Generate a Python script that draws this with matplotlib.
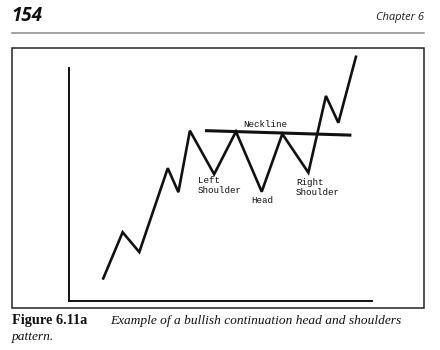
import matplotlib
matplotlib.use("Agg")
import matplotlib.pyplot as plt
from matplotlib.patches import Rectangle
from matplotlib.lines import Line2D

# Price path of a bullish continuation head-and-shoulders (time, price)
time = [11.3, 17.7, 23.2, 32.6, 36.1, 39.9, 47.9, 55.1, 63.6, 70.4, 79.0, 84.8, 88.9, 94.7]
price = [9.7, 29.5, 21.0, 57.0, 46.7, 73.1, 54.4, 72.7, 46.9, 71.7, 55.1, 88.0, 76.5, 104.8]

# Neckline end points
neck_time = [45.4, 92.7]
neck_price = [73.1, 71.2]

# Labelled troughs: index into the price path
left_shoulder_idx = 6
head_idx = 8
right_shoulder_idx = 10

W, H = 440, 350
fig = plt.figure(figsize=(W / 100, H / 100), dpi=100)
fig.patch.set_facecolor("white")


def fx(px):
    return px / W


def fy(py):
    return 1 - py / H


ink = "#111111"

# Page header
fig.text(fx(11), fy(21), "154", fontsize=13.5, fontweight="bold", style="italic",
         family="Open Sans", color=ink, ha="left", va="baseline")
fig.text(fx(424), fy(20), "Chapter 6", fontsize=8.0, style="italic",
         family="Open Sans", color="#222222", ha="right", va="baseline")
fig.add_artist(Line2D([fx(12), fx(424)], [fy(33), fy(33)], transform=fig.transFigure,
                      color="#8a8a8a", lw=1.1))

# Figure frame
fig.add_artist(Rectangle((fx(12), fy(308)), fx(424) - fx(12), fy(48) - fy(308),
                         transform=fig.transFigure, fill=False, edgecolor="#222222", lw=1.1))

# Chart axes
ax = fig.add_axes([fx(69), fy(301), fx(372) - fx(69), fy(68) - fy(301)])
ax.set_xlim(0, 100)
ax.set_ylim(0, 100)
ax.patch.set_alpha(0)
for side in ("top", "right"):
    ax.spines[side].set_visible(False)
for side in ("left", "bottom"):
    ax.spines[side].set_linewidth(1.4)
    ax.spines[side].set_color(ink)
ax.set_xticks([])
ax.set_yticks([])

ax.plot(time, price, color=ink, lw=1.9, solid_joinstyle="miter", clip_on=False)
ax.plot(neck_time, neck_price, color=ink, lw=2.2, clip_on=False)

mono = dict(family="Liberation Mono", fontsize=6.6, color=ink)

ax.annotate("Neckline", xy=(neck_time[0], neck_price[0]), xytext=(59, 6),
            textcoords="offset pixels", ha="center", va="center", **mono)
ax.annotate("Left\nShoulder", xy=(time[left_shoulder_idx], price[left_shoulder_idx]),
            xytext=(-16, -2), textcoords="offset pixels", ha="left", va="top",
            linespacing=1.15, **mono)
ax.annotate("Head", xy=(time[head_idx], price[head_idx]),
            xytext=(1, -4), textcoords="offset pixels", ha="center", va="top", **mono)
ax.annotate("Right\nShoulder", xy=(time[right_shoulder_idx], price[right_shoulder_idx]),
            xytext=(-12.6, -5), textcoords="offset pixels", ha="left", va="top",
            linespacing=1.15, **mono)

# Caption
fig.text(fx(12), fy(324), "Figure 6.11a", fontsize=10.3, fontweight="bold",
         family="Liberation Serif", color=ink, ha="left", va="baseline")
fig.text(fx(110), fy(324), "Example of a bullish continuation head and shoulders",
         fontsize=9.6, style="italic", family="Liberation Serif", color=ink,
         ha="left", va="baseline")
fig.text(fx(12), fy(340), "pattern.", fontsize=9.6, style="italic",
         family="Liberation Serif", color=ink, ha="left", va="baseline")

fig.savefig("out.png", dpi=100, facecolor="white")
